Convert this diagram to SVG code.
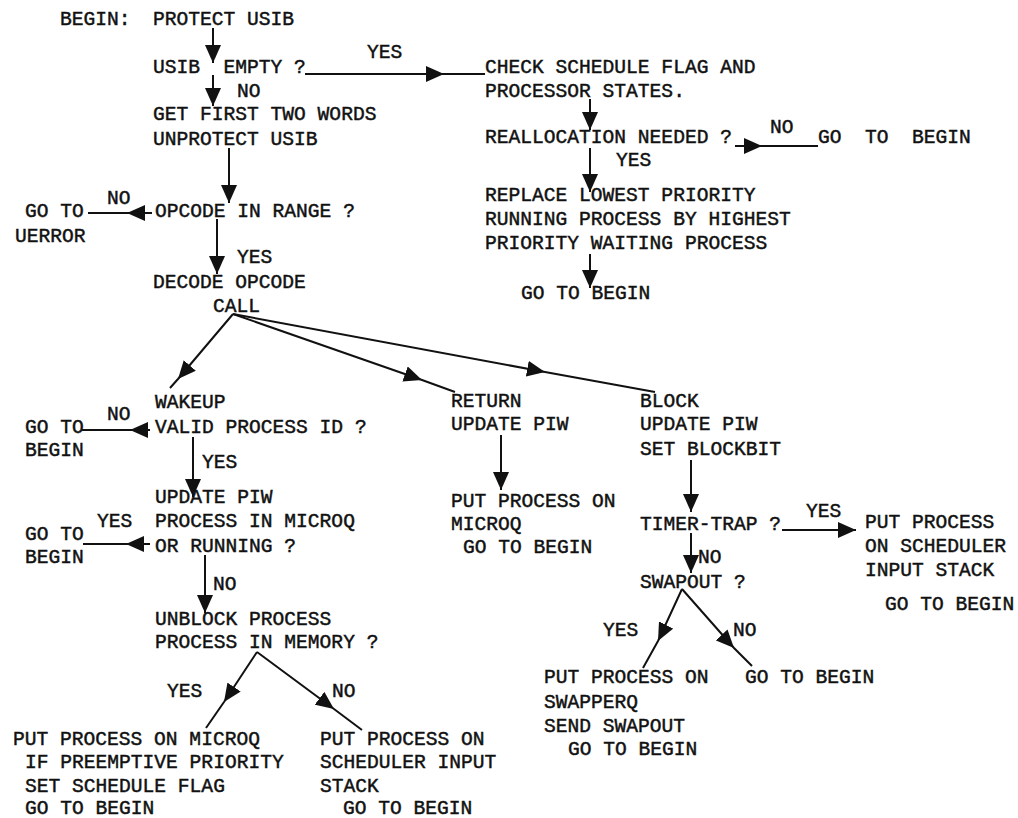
<svg xmlns="http://www.w3.org/2000/svg" width="1018" height="818" viewBox="0 0 1018 818">
<style>
text{font-family:"Liberation Mono","DejaVu Sans Mono",monospace;font-size:19.6px;fill:#111;stroke:#111;stroke-width:0.45;white-space:pre}
.c{fill:none;stroke:#111;stroke-width:2}
.m{marker-mid:url(#ah)}
.e{marker-end:url(#ah)}
</style>
<defs>
<marker id="ah" viewBox="0 0 18 16" refX="18" refY="8" markerWidth="18" markerHeight="16" markerUnits="userSpaceOnUse" orient="auto">
<path d="M0,0 L18,8 L0,16 z" fill="#111"/>
</marker>
</defs>
<rect width="1018" height="818" fill="#fff"/>
<g id="connectors">
<path class="c e" d="M213,28 L213,63"/>
<path class="c e" d="M213,75 L213,106"/>
<path class="c m" d="M305,74 L444,74 L485,74"/>
<path class="c e" d="M229,148 L229,203"/>
<path class="c m" d="M152,213 L127,213 L88,213"/>
<path class="c e" d="M217,219 L217,274"/>
<path class="c m" d="M233,314 L178,379 L170,388"/>
<path class="c m" d="M233,314 L422,380 L455,392"/>
<path class="c m" d="M233,314 L545,372 L655,392"/>
<path class="c e" d="M590,99 L590,130"/>
<path class="c m" d="M735,146 L762,146 L818,146"/>
<path class="c e" d="M590,148 L590,192"/>
<path class="c e" d="M590,254 L590,288"/>
<path class="c m" d="M150,430 L130,430 L82,430"/>
<path class="c e" d="M193,437 L193,497"/>
<path class="c m" d="M150,544 L126,544 L83,544"/>
<path class="c e" d="M205,555 L205,613"/>
<path class="c m" d="M257,652 L224,702 L206,728"/>
<path class="c m" d="M257,652 L334,709 L362,730"/>
<path class="c e" d="M501,435 L501,490"/>
<path class="c e" d="M691,460 L691,512"/>
<path class="c e" d="M782,530 L856,530"/>
<path class="c e" d="M691,533 L691,573"/>
<path class="c m" d="M682,589 L658,641 L643,668"/>
<path class="c m" d="M682,589 L734,648 L752,666"/>
<text x="367" y="58">YES</text>
<text x="237" y="97">NO</text>
<text x="770" y="133">NO</text>
<text x="616" y="166">YES</text>
<text x="107" y="204">NO</text>
<text x="237" y="263">YES</text>
<text x="107" y="420">NO</text>
<text x="202" y="468">YES</text>
<text x="97" y="527">YES</text>
<text x="213" y="590">NO</text>
<text x="167" y="697">YES</text>
<text x="332" y="697">NO</text>
<text x="806" y="517">YES</text>
<text x="698" y="563">NO</text>
<text x="603" y="636">YES</text>
<text x="733" y="636">NO</text>
</g>
<g id="begin"><text x="60" y="25">BEGIN:</text><text x="153" y="25">PROTECT USIB</text></g>
<g id="usib-empty"><text x="153" y="73">USIB  EMPTY ?</text></g>
<g id="get-words"><text x="153" y="120">GET FIRST TWO WORDS</text><text x="153" y="145">UNPROTECT USIB</text></g>
<g id="check-schedule"><text x="485" y="73">CHECK SCHEDULE FLAG AND</text><text x="485" y="97">PROCESSOR STATES.</text></g>
<g id="reallocation"><text x="485" y="143">REALLOCATION NEEDED ?</text></g>
<g id="goto-begin-realloc"><text x="818" y="143">GO  TO  BEGIN</text></g>
<g id="replace"><text x="485" y="201">REPLACE LOWEST PRIORITY</text><text x="485" y="225">RUNNING PROCESS BY HIGHEST</text><text x="485" y="249">PRIORITY WAITING PROCESS</text></g>
<g id="goto-begin-replace"><text x="521" y="299">GO TO BEGIN</text></g>
<g id="goto-uerror"><text x="25" y="217">GO TO</text><text x="15" y="242">UERROR</text></g>
<g id="opcode-range"><text x="155" y="217">OPCODE IN RANGE ?</text></g>
<g id="decode"><text x="153" y="288">DECODE OPCODE</text><text x="213" y="312">CALL</text></g>
<g id="wakeup"><text x="155" y="408">WAKEUP</text><text x="155" y="433">VALID PROCESS ID ?</text></g>
<g id="goto-begin-w1"><text x="25" y="433">GO TO</text><text x="25" y="456">BEGIN</text></g>
<g id="microq-check"><text x="155" y="503">UPDATE PIW</text><text x="155" y="527">PROCESS IN MICROQ</text><text x="155" y="552">OR RUNNING ?</text></g>
<g id="goto-begin-w2"><text x="25" y="540">GO TO</text><text x="25" y="563">BEGIN</text></g>
<g id="unblock"><text x="155" y="625">UNBLOCK PROCESS</text><text x="155" y="648">PROCESS IN MEMORY ?</text></g>
<g id="put-microq-w"><text x="13" y="745">PUT PROCESS ON MICROQ</text><text x="25" y="768">IF PREEMPTIVE PRIORITY</text><text x="25" y="792">SET SCHEDULE FLAG</text><text x="25" y="814">GO TO BEGIN</text></g>
<g id="put-sched-w"><text x="320" y="745">PUT PROCESS ON</text><text x="320" y="768">SCHEDULER INPUT</text><text x="320" y="792">STACK</text><text x="343" y="814">GO TO BEGIN</text></g>
<g id="return"><text x="451" y="407">RETURN</text><text x="451" y="430">UPDATE PIW</text></g>
<g id="put-microq-r"><text x="451" y="507">PUT PROCESS ON</text><text x="451" y="530">MICROQ</text><text x="463" y="553">GO TO BEGIN</text></g>
<g id="block"><text x="640" y="407">BLOCK</text><text x="640" y="430">UPDATE PIW</text><text x="640" y="455">SET BLOCKBIT</text></g>
<g id="timer-trap"><text x="640" y="530">TIMER-TRAP ?</text></g>
<g id="put-sched-t"><text x="865" y="528">PUT PROCESS</text><text x="865" y="552">ON SCHEDULER</text><text x="865" y="576">INPUT STACK</text><text x="885" y="610">GO TO BEGIN</text></g>
<g id="swapout"><text x="640" y="588">SWAPOUT ?</text></g>
<g id="put-swapperq"><text x="544" y="683">PUT PROCESS ON</text><text x="544" y="708">SWAPPERQ</text><text x="544" y="732">SEND SWAPOUT</text><text x="568" y="755">GO TO BEGIN</text></g>
<g id="goto-begin-s"><text x="745" y="683">GO TO BEGIN</text></g>
</svg>
